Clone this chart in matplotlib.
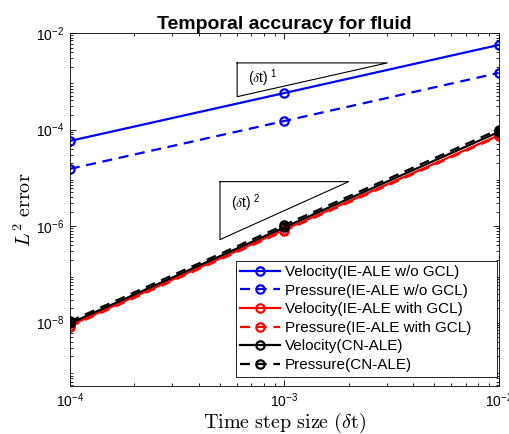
import matplotlib
matplotlib.use("Agg")
import matplotlib.pyplot as plt

plt.rcParams['font.family'] = ['Liberation Sans', 'DejaVu Sans']
plt.rcParams['mathtext.fontset'] = 'cm'

# data
dt = [1e-4, 1e-3, 1e-2]

vel_ie_nogcl = [5.8e-5, 5.7e-4, 5.65e-3]
pres_ie_nogcl = [1.53e-5, 1.5e-4, 1.49e-3]
vel_ie_gcl = [8.7e-9, 8.4e-7, 7.6e-5]
pres_ie_gcl = [8.2e-9, 7.9e-7, 7.2e-5]
vel_cn = [9.6e-9, 9.4e-7, 8.9e-5]
pres_cn = [1.06e-8, 1.05e-6, 1.0e-4]

labels = ['Velocity(IE-ALE w/o GCL)', 'Pressure(IE-ALE w/o GCL)',
          'Velocity(IE-ALE with GCL)', 'Pressure(IE-ALE with GCL)',
          'Velocity(CN-ALE)', 'Pressure(CN-ALE)']

# slope triangles: x corners, y corners (log-log)
tri1_x = [10**-3.22, 10**-2.52]
tri1_y = [10**-3.32, 10**-2.62]
tri2_x = [10**-3.30, 10**-2.70]
tri2_y = [10**-6.28, 10**-5.08]

fig = plt.figure(figsize=(5.1, 4.34), dpi=100)
ax = fig.add_axes([0.137, 0.111, 0.841, 0.813])

series = [vel_ie_nogcl, pres_ie_nogcl, vel_ie_gcl, pres_ie_gcl, vel_cn, pres_cn]
colors = ['#0000ff', '#0000ff', '#ff0000', '#ff0000', 'k', 'k']
styles = ['-', '--', '-', '--', '-', '--']
for s, c, ls, lab in zip(series, colors, styles, labels):
    ax.loglog(dt, s, ls, color=c, lw=1.6, marker='o', ms=6, mfc='none',
              mew=1.6, label=lab, dashes=(4.5, 3) if ls == '--' else (None, None))

# triangles
for tx, ty in [(tri1_x, tri1_y), (tri2_x, tri2_y)]:
    ax.plot([tx[0], tx[1], tx[0], tx[0]], [ty[1], ty[1], ty[0], ty[1]],
            color='k', lw=0.8)
ax.text(10**-3.17, 10**-2.93, r'$\mathregular{(}\delta\mathregular{t)}^{\ \mathregular{1}}$',
        fontsize=10, va='center')
ax.text(10**-3.25, 10**-5.52, r'$\mathregular{(}\delta\mathregular{t)}^{\ \mathregular{2}}$',
        fontsize=10, va='center')

ax.set_xlim(1e-4, 1e-2)
ax.set_ylim(10**-9.31, 1e-2)
ax.set_yticks([1e-8, 1e-6, 1e-4, 1e-2])
ax.set_yticklabels([r'$\mathregular{10^{-8}}$', r'$\mathregular{10^{-6}}$',
                    r'$\mathregular{10^{-4}}$', r'$\mathregular{10^{-2}}$'])
ax.set_xticks([1e-4, 1e-3, 1e-2])
ax.set_xticklabels([r'$\mathregular{10^{-4}}$', r'$\mathregular{10^{-3}}$',
                    r'$\mathregular{10^{-2}}$'])
ax.tick_params(which='both', direction='in', top=True, right=True, labelsize=10, width=0.6)
ax.tick_params(which='major', length=4, pad=4)
ax.tick_params(which='minor', length=2)
for sp in ax.spines.values():
    sp.set_linewidth(0.6)

ax.set_title('Temporal accuracy for fluid', fontsize=14, fontweight='bold', pad=3)
ax.set_xlabel(r'$\mathrm{Time\ step\ size\ (}\delta\mathrm{t)}$', fontsize=14.5, labelpad=1)
ax.set_ylabel(r'$L^2\ \mathrm{error}$', fontsize=14.5, labelpad=1)

leg = ax.legend(loc='lower left', bbox_to_anchor=(0.387, 0.026, 0.608, 0.3),
                mode='expand', fontsize=11,
                handlelength=2.6, handletextpad=0.3, labelspacing=0.3,
                borderpad=0.3, borderaxespad=0, fancybox=False, edgecolor='k',
                framealpha=1)
leg.get_frame().set_linewidth(0.6)

fig.savefig('out.png', dpi=100)
